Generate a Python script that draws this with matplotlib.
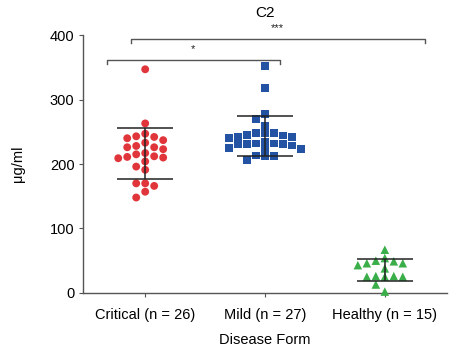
import numpy as np
import matplotlib
matplotlib.use('Agg')
import matplotlib.pyplot as plt

plt.rcParams['font.family'] = ['Liberation Sans', 'DejaVu Sans']

# 数据 (从图上估读, μg/ml)
groups = ['Critical (n = 26)', 'Mild (n = 27)', 'Healthy (n = 15)']
critical = [347, 263, 247, 242, 237, 240, 243, 233, 226, 223, 226, 228,
            217, 212, 210, 209, 211, 215, 204, 196, 191, 170, 170, 166, 157, 148]
mild = [352, 318, 278, 270, 259, 245, 243, 248, 240, 248, 248, 242, 244, 231,
        229, 232, 235, 232, 231, 231, 223, 223, 225, 212, 206, 212, 213]
healthy = [67, 54, 50, 38, 49, 46, 43, 46, 25, 25, 26, 26, 25, 13, 2]
values = [critical, mild, healthy]

colors = ['#e0353a', '#2553a3', '#3aae48']
markers = ['o', 's', '^']
sizes = [32, 30, 38]
gaps = [12.5, 10.5, 12.5]

# 显著性标注: (左端, 右端, 高度, 文本, 文本x, 文本y)
brackets = [(-0.32, 1.125, 361, '*', 0.40, 370),
            (-0.12, 2.333, 394, '***', 1.10, 403)]

fig = plt.figure(figsize=(4.53, 3.55), dpi=100)
ax = fig.add_axes([0.183, 0.175, 0.804, 0.726])
ax.set_xlim(-0.52, 2.52)
ax.set_ylim(0, 400)


def swarm(vals, step=0.075, dy=12.5):
    # 简单的蜂群排布, 按列摆放
    order = np.argsort(vals)[::-1]
    placed = []
    xs = np.zeros(len(vals))
    for i in order:
        v = vals[i]
        for k in [0, -1, 1, -2, 2, -3, 3, -4, 4]:
            ok = all(not (kk == k and abs(vv - v) < dy) for kk, vv in placed)
            if ok:
                placed.append((k, v))
                xs[i] = k * step
                break
    return xs


for i, vals in enumerate(values):
    vals = np.array(vals, dtype=float)
    off = swarm(vals, dy=gaps[i])
    ax.scatter(i + off, vals, s=sizes[i], marker=markers[i], color=colors[i],
               edgecolors='none', zorder=3, clip_on=False)
    m, sd = vals.mean(), vals.std(ddof=1)
    ax.errorbar(i, m, yerr=sd, fmt='none', ecolor='#222222', elinewidth=1.1,
                capsize=20, capthick=1.1, zorder=4)

for x0, x1, h, txt, tx, ty in brackets:
    ax.plot([x0, x0, x1, x1], [h - 6, h, h, h - 6], color='#555555', lw=1,
            clip_on=False)
    ax.text(tx, ty, txt, ha='center', va='bottom', fontsize=8, color='#222222')

ax.text(0.5, 1.085, 'C2', transform=ax.transAxes, ha='center', va='center',
        fontsize=11)

ax.set_xticks([0, 1, 2])
ax.set_xticklabels(groups, fontsize=10.5)
ax.set_yticks([0, 100, 200, 300, 400])
ax.tick_params(axis='y', labelsize=10.5, length=3, color='#555555', pad=3)
ax.tick_params(axis='x', length=3, color='#555555', pad=8)
ax.set_xlabel('Disease Form', fontsize=10.5, labelpad=8)
ax.set_ylabel('μg/ml', fontsize=10.5, labelpad=18)

for s in ['top', 'right']:
    ax.spines[s].set_visible(False)
for s in ['left', 'bottom']:
    ax.spines[s].set_color('#555555')
    ax.spines[s].set_linewidth(1)

plt.savefig('out.png', dpi=100)
